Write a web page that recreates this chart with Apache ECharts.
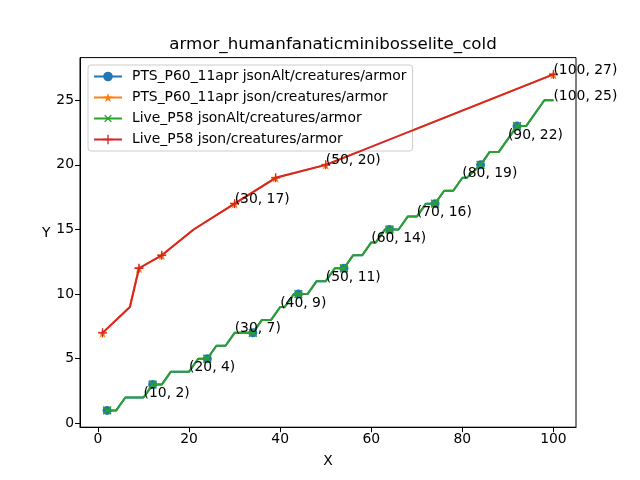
<!DOCTYPE html>
<html>
<head>
<meta charset="utf-8">
<script src="https://cdn.jsdelivr.net/npm/echarts@6/dist/echarts.min.js"></script>
<style>
html,body{margin:0;padding:0;background:#fff;}
#chart{width:640px;height:480px;}
</style>
</head>
<body>
<div id="chart"></div>
<script>
// jsonAlt path (both jsonAlt series draw the same steps)
var altX = [2,4,6,10,12,14,16,20,22,24,26,28,30,34,36,38,40,41,43,44,46,48,50,52,54,56,58,60,61,63,64,66,68,70,72,74,76,78,80,81,84,86,88,92,94,98,100];
var altY = [1,1,2,2,3,3,4,4,5,5,6,6,7,7,8,8,9,9,10,10,10,11,11,12,12,13,13,14,14,15,15,15,16,16,17,17,18,18,19,19,20,21,21,23,23,25,25];
var altMarkX = [2,12,24,34,44,54,64,74,84,92];
// json path (both json series)
var jsonX = [1,7,9,14,21,30,39,50,100];
var jsonY = [7,9,12,13,15,17,19,20,27];
var jsonMarkX = [1,9,14,30,39,50,100];
// annotations
var annAltX = [10,20,30,40,50,60,70,80,90,100];
var annAltY = [2,4,7,9,11,14,16,19,22,25];
var annJsonX = [30,50,100];
var annJsonY = [17,20,27];
var xTicks = [0,20,40,60,80,100];
var yTicks = [0,5,10,15,20,25];

var names = ['PTS_P60_11apr jsonAlt/creatures/armor','PTS_P60_11apr json/creatures/armor','Live_P58 jsonAlt/creatures/armor','Live_P58 json/creatures/armor'];

var plusPath = 'path://M4.3,0H5.7V4.3H10V5.7H5.7V10H4.3V5.7H0V4.3H4.3Z';
var starPath = 'path://M50,0L61,35L98,35L68,57L79,91L50,70L21,91L32,57L2,35L39,35Z';

function build(xs, ys, marks){
	var out = [];
	for(var i=0;i<xs.length;i++){
		var d = {value:[xs[i], ys[i]]};
		if(marks.indexOf(xs[i]) < 0){ d.symbol = 'none'; }
		out.push(d);
	}
	return out;
}
function ann(xs, ys){
	var out = [];
	for(var i=0;i<xs.length;i++){ out.push([xs[i], ys[i]]); }
	return out;
}

var chart = echarts.init(document.getElementById('chart'));
var font = 'DejaVu Sans';
var fs = 13.9;
var option = {
	animation:false,
	textStyle:{fontFamily:font},
	title:{
		text:'armor_humanfanaticminibosselite_cold',
		left:328, top:31, textAlign:'center',
		textStyle:{fontSize:16.7, fontWeight:'normal', color:'#000', fontFamily:font}
	},
	legend:{
		orient:'vertical', left:88, top:65,
		padding:[4,6,4,5], itemGap:6, itemWidth:28, itemHeight:12,
		backgroundColor:'rgba(255,255,255,0.8)', borderColor:'#cccccc', borderWidth:1, borderRadius:3,
		textStyle:{fontSize:fs, color:'#000', fontFamily:font, lineHeight:15, padding:[0,0,0,5]},
		data:names
	},
	grid:{left:80, right:64, top:57.6, bottom:52.8, show:true, borderColor:'#000', borderWidth:1},
	xAxis:{
		type:'value', min:-3.95, max:104.95,
		name:'X', nameLocation:'middle', nameGap:27,
		nameTextStyle:{fontSize:fs, color:'#000', fontFamily:font},
		axisLine:{show:true, onZero:false, lineStyle:{color:'#000', width:1}},
		axisTick:{show:true, length:5, customValues:xTicks, lineStyle:{color:'#000'}},
		axisLabel:{customValues:xTicks, color:'#000', fontSize:fs, margin:5, fontFamily:font},
		splitLine:{show:false}
	},
	yAxis:{
		type:'value', min:-0.3, max:28.3,
		name:'Y', nameLocation:'middle', nameGap:28, nameRotate:0,
		nameTextStyle:{fontSize:fs, color:'#000', fontFamily:font, verticalAlign:'bottom', padding:[0,0,2,0]},
		axisLine:{show:true, onZero:false, lineStyle:{color:'#000', width:1}},
		axisTick:{show:true, length:5, customValues:yTicks, lineStyle:{color:'#000'}},
		axisLabel:{customValues:yTicks, color:'#000', fontSize:fs, margin:6, fontFamily:font},
		splitLine:{show:false}
	},
	series:[
		{
			name:names[0], type:'line', data:build(altX, altY, altMarkX),
			symbol:'circle', symbolSize:9, color:'#1f77b4',
			lineStyle:{width:2, color:'#1f77b4'}, itemStyle:{color:'#1f77b4'}, z:2
		},
		{
			name:names[1], type:'line', data:build(jsonX, jsonY, jsonMarkX),
			symbol:starPath, symbolSize:10, color:'#ff7f0e',
			lineStyle:{width:2, color:'#ff7f0e'}, itemStyle:{color:'#ff7f0e'}, z:3
		},
		{
			name:names[2], type:'line', data:build(altX, altY, altMarkX),
			symbol:plusPath, symbolSize:11, symbolRotate:45, color:'#2ca02c',
			lineStyle:{width:2, color:'#2ca02c'}, itemStyle:{color:'#2ca02c'}, z:4
		},
		{
			name:names[3], type:'line', data:build(jsonX, jsonY, jsonMarkX),
			symbol:plusPath, symbolSize:9, color:'#d62728',
			lineStyle:{width:2, color:'#d62728'}, itemStyle:{color:'#d62728'}, z:5
		},
		{
			type:'scatter', data:ann(annAltX, annAltY).concat(ann(annJsonX, annJsonY)),
			symbolSize:0, silent:true, z:6, itemStyle:{opacity:1},
			label:{
				show:true, position:[0,0], align:'left', verticalAlign:'bottom', offset:[0,3],
				color:'#000', opacity:1, fontSize:fs, fontFamily:font,
				formatter:function(p){ return '(' + p.value[0] + ', ' + p.value[1] + ')'; }
			}
		}
	]
};
chart.setOption(option);
</script>
</body>
</html>
